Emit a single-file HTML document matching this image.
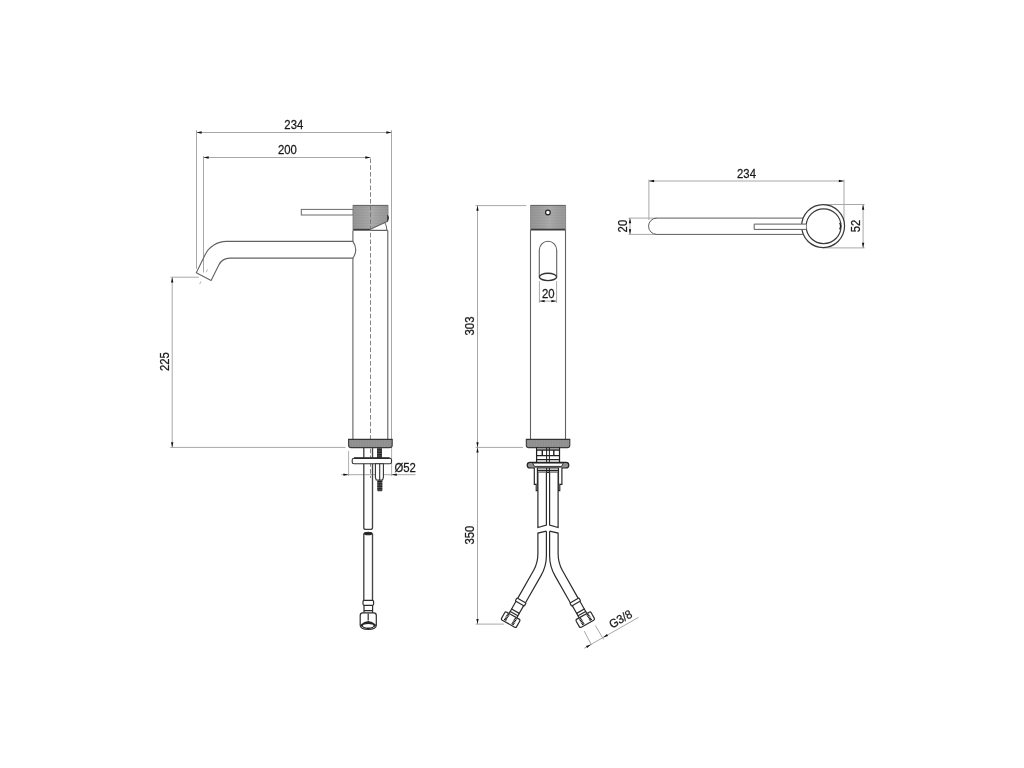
<!DOCTYPE html>
<html>
<head>
<meta charset="utf-8">
<title>Technical drawing</title>
<style>
html,body{margin:0;padding:0;background:#fff;}
body{width:1024px;height:768px;overflow:hidden;font-family:"Liberation Sans",sans-serif;}
svg{display:block;filter:grayscale(1);}
.d{stroke:#a8a8a8;stroke-width:1;fill:none;}
.o{stroke:#626262;stroke-width:1.1;fill:none;}
.ow{stroke:#626262;stroke-width:1.1;fill:#fff;}
.t{font-family:"Liberation Sans",sans-serif;font-size:12px;fill:#1a1a1a;text-anchor:middle;stroke:#1a1a1a;stroke-width:0.25;}
.a{fill:#111;stroke:none;}
.c{stroke:#707070;stroke-width:0.85;fill:none;stroke-dasharray:4.6 2.15;}
.h{stroke:#2c2c2c;stroke-width:1.2;fill:none;}
.hw{stroke:#2c2c2c;stroke-width:1.2;fill:#fff;}
</style>
</head>
<body>
<svg width="1024" height="768" viewBox="0 0 1024 768">
<defs>
  <pattern id="knurl" width="2" height="1.6" patternUnits="userSpaceOnUse">
    <rect width="2" height="1.6" fill="#a3a3a3"/>
    <rect width="2" height="0.5" y="1.1" fill="#979797"/>
  </pattern>
  <pattern id="thread" width="6" height="1.7" patternUnits="userSpaceOnUse">
    <rect width="6" height="1.7" fill="#666"/>
    <rect width="6" height="1" fill="#1c1c1c"/>
  </pattern>
  <pattern id="ring" width="1.6" height="2" patternUnits="userSpaceOnUse">
    <rect width="1.6" height="2" fill="#959595"/>
    <rect width="0.5" height="2" x="1.1" fill="#878787"/>
  </pattern>
  <linearGradient id="hg" x1="0" y1="0" x2="1" y2="0">
    <stop offset="0" stop-color="#000" stop-opacity="0.07"/>
    <stop offset="0.55" stop-color="#fff" stop-opacity="0.10"/>
    <stop offset="1" stop-color="#000" stop-opacity="0.05"/>
  </linearGradient>
  <path id="ar" d="M0,0 L5.2,-1.15 L5.2,1.15 Z"/>
</defs>
<rect width="1024" height="768" fill="#fff"/>

<!-- ================= LEFT: SIDE VIEW ================= -->
<g id="side">
  <!-- dimension 234 -->
  <path class="d" d="M196.5,130.2V268.8 M391.5,130.2V448 M196.5,132.5H391.5"/>
  <use href="#ar" class="a" transform="translate(196.5,132.5)"/>
  <use href="#ar" class="a" transform="translate(391.5,132.5) rotate(180)"/>
  <text class="t" transform="translate(293.8,128.8) scale(0.945,1)">234</text>
  <!-- dimension 200 -->
  <path class="d" d="M203.5,156V272.5 M203.5,157.5H370.5"/>
  <use href="#ar" class="a" transform="translate(203.5,157.5)"/>
  <use href="#ar" class="a" transform="translate(370.5,157.5) rotate(180)"/>
  <text class="t" transform="translate(287.4,154) scale(0.945,1)">200</text>
  <!-- dimension 225 -->
  <path class="d" d="M170.5,277.2H198.8 M170.3,447.4H345.6 M172.2,277.2V447.4"/>
  <use href="#ar" class="a" transform="translate(172.2,277.2) rotate(90)"/>
  <use href="#ar" class="a" transform="translate(172.2,447.4) rotate(-90)"/>
  <text class="t" transform="translate(169,361.6) rotate(-90) scale(0.945,1)">225</text>

  <!-- spout tip axis ticks -->
  <path d="M207.6,269.4L206.2,272.2 M201,281.4L199.6,284.2" stroke="#aaa" stroke-width="0.9" fill="none"/>

  <!-- spout -->
  <path class="o" d="M352.9,241.4H226.4A23.8,23.8 0 0 0 205.1,254.65L196.3,272.7L211.1,280.6L218.8,265A12.3,12.3 0 0 1 229.9,258.1H352.9Q358.6,249.7 352.9,241.4Z"/>
  <!-- body -->
  <path class="o" d="M352.9,230.5V241.4 M352.9,258.1V439 M387.8,230.5V439 M370.9,230.4H387.8"/>
  <!-- handle lever -->
  <rect x="301.3" y="209.4" width="52" height="5.6" fill="#fff" stroke="#6a6a6a" stroke-width="1"/>
  <!-- head (knurled) -->
  <path d="M353,205H388V221.2L386.6,221.7L370.9,229V230.4H353Z" fill="url(#knurl)"/>
  <path d="M353,205H388V221.2L386.6,221.7L370.9,229V230.4H353Z" fill="url(#hg)"/>
  <path d="M353,205.4H388" stroke="#5a5a5a" stroke-width="0.9" fill="none"/>
  <path d="M353,229.7H370.9" stroke="#3a3a3a" stroke-width="1.7" fill="none"/>
  <path d="M353,205V230.4 M388,205V221.2" stroke="#777" stroke-width="0.8" fill="none"/>
  <path class="o" d="M370.9,229L386.6,221.7L388,221.2"/>
  <path d="M384.9,222.6Q386.6,225.5 386.9,230.2" stroke="#555" stroke-width="0.9" fill="none"/>
  <path d="M387.5,215Q390,217.9 387.5,220.8Z" fill="#222" stroke="#222" stroke-width="0.4"/>
  <!-- centre line -->
  <path class="c" d="M370.5,157.5V478" stroke-dashoffset="-1"/>

  <!-- base ring -->
  <path d="M348.6,439.3H392.2V445.2Q392.2,447.6 389.6,447.6H351.2Q348.6,447.6 348.6,445.2Z" fill="url(#ring)" stroke="#3a3a3a" stroke-width="1.1"/>
  <path d="M348.6,439.5H392.2" stroke="#333" stroke-width="1.2" fill="none"/>

  <!-- dimension Ø52 -->
  <path d="M348.6,451V476 M391.6,448V476" stroke="#b0b0b0" stroke-width="1" fill="none"/>
  <path class="d" d="M341.3,474.7H415.6"/>
  <use href="#ar" class="a" transform="translate(348.6,474.7) rotate(180)"/>
  <use href="#ar" class="a" transform="translate(391.6,474.7)"/>
  <text class="t" transform="translate(405.2,471.9) scale(0.945,1)">Ø52</text>

  <!-- threaded rod above plate -->
  <rect x="377" y="447.8" width="5" height="10.4" fill="url(#thread)"/>
  <!-- hose upper -->
  <path d="M363.8,447.8V527.4Q363.8,529.4 365.8,529.4H370.5Q372.5,529.4 372.5,527.4V447.8" fill="none" stroke="#444" stroke-width="1.35"/>
  <!-- mounting plate -->
  <rect x="352.2" y="458.3" width="39.3" height="5.4" rx="1.8" fill="#fff" stroke="#333" stroke-width="1.1"/>
  <path d="M354,458.2H389.6" stroke="#2a2a2a" stroke-width="1.7" fill="none"/>
  <!-- hex nut -->
  <path d="M375.4,463.8H383.4V477.5L382.6,480H376.2L375.4,477.5Z" fill="#fff" stroke="#333" stroke-width="1.1"/>
  <path d="M379.7,463.8V480" stroke="#333" stroke-width="1.1" fill="none"/>
  <!-- thread below nut -->
  <rect x="377.2" y="480" width="5.2" height="11.2" rx="1" fill="url(#thread)"/>

  <!-- hose lower -->
  <ellipse cx="368.15" cy="533.5" rx="4" ry="1.2" fill="#222" stroke="#262626" stroke-width="1.1"/>
  <path d="M363.8,533.5V600.3 M372.5,533.5V600.3" fill="none" stroke="#444" stroke-width="1.35"/>
  <!-- collar -->
  <rect class="hw" x="363" y="600.4" width="10.6" height="4.9" rx="1.2" stroke-width="1.4"/>
  <path class="h" stroke-width="1.4" d="M364,605.3V612.8 M372.6,605.3V612.8 M364,610.6H372.6"/>
  <!-- nut -->
  <path class="hw" stroke-width="1.5" d="M360.2,615.6Q360.2,612.9 362.9,612.9H373.6Q376.3,612.9 376.3,615.6V625.2Q376.3,629.4 368.25,629.4Q360.2,629.4 360.2,625.2Z"/>
  <path class="h" stroke-width="1.2" d="M368.2,613.5V620.6"/>
  <path d="M360.7,624.6Q368.2,617.2 375.8,624.6V626Q368.2,632.4 360.7,626Z" fill="#262626"/>
  <ellipse cx="368.25" cy="625.7" rx="5.3" ry="1.8" fill="#fff"/>
</g>

<!-- ================= MIDDLE: FRONT VIEW ================= -->
<g id="front">
  <!-- dimension 303 / 350 -->
  <path class="d" d="M475.6,205.6H526.3 M475.6,447.4H523.1 M475.6,624.1H503.8 M477.5,205.6V624.1"/>
  <use href="#ar" class="a" transform="translate(477.5,205.6) rotate(90)"/>
  <use href="#ar" class="a" transform="translate(477.5,447.4) rotate(-90)"/>
  <use href="#ar" class="a" transform="translate(477.5,447.4) rotate(90)"/>
  <use href="#ar" class="a" transform="translate(477.5,624.1) rotate(-90)"/>
  <text class="t" transform="translate(474,326) rotate(-90) scale(0.945,1)">303</text>
  <text class="t" transform="translate(474,535.1) rotate(-90) scale(0.945,1)">350</text>

  <!-- head -->
  <rect x="530.6" y="205" width="35" height="25" fill="url(#knurl)"/>
  <rect x="530.6" y="205" width="35" height="25" fill="url(#hg)"/>
  <path d="M530.6,205.4H565.6" stroke="#5a5a5a" stroke-width="0.9" fill="none"/>
  <path d="M530.6,229.6H565.6" stroke="#3a3a3a" stroke-width="1.7" fill="none"/>
  <path d="M530.6,205V230 M565.6,205V230" stroke="#777" stroke-width="0.8" fill="none"/>
  <circle cx="547.9" cy="212.5" r="2.35" fill="#fff" stroke="#222" stroke-width="1.2"/>
  <!-- body -->
  <path class="o" d="M530.5,230V439 M565.5,230V439"/>
  <!-- spout front -->
  <path class="o" d="M539.3,277V250A8.7,8.7 0 0 1 556.7,250V277"/>
  <ellipse cx="548" cy="276.9" rx="8.6" ry="3.7" fill="#fff" stroke="#333" stroke-width="1.4"/>
  <!-- dimension 20 -->
  <path class="d" d="M539.4,281.2V302.8 M556.6,281.2V302.8 M539.4,301.1H556.6"/>
  <use href="#ar" class="a" transform="translate(539.4,301.1)"/>
  <use href="#ar" class="a" transform="translate(556.6,301.1) rotate(180)"/>
  <text class="t" transform="translate(548.3,297.7) scale(0.945,1)">20</text>

  <!-- base ring -->
  <path d="M526.3,439.3H569.8V445.2Q569.8,447.6 567.2,447.6H528.9Q526.3,447.6 526.3,445.2Z" fill="url(#ring)" stroke="#3a3a3a" stroke-width="1.1"/>
  <path d="M526.3,439.5H569.8" stroke="#333" stroke-width="1.2" fill="none"/>

  <!-- fittings under base -->
  <g stroke="#222" stroke-width="1.25" fill="none">
    <rect x="536.6" y="447.6" width="22.9" height="24.8" fill="#fff"/>
    <rect x="537.2" y="447.8" width="21.7" height="2" fill="#9a9a9a" stroke="none"/>
    <path d="M536.6,450.1H559.5 M536.6,455.6H559.5 M536.6,459.7H559.5 M536.6,470.3H559.5 M536.6,472.4H559.5"/>
    <path d="M542.3,450.1V455.6 M553.8,450.1V455.6" stroke-width="1.4"/>
    <path d="M546.6,447.6V472.4 M549.4,447.6V472.4" stroke-width="1"/>
  </g>
  <!-- plate -->
  <rect x="527.2" y="462.3" width="41.6" height="5.7" rx="2.85" fill="#8f8f8f" stroke="#222" stroke-width="1.2"/>
  <path d="M532.6,463.1H563.4L561.6,466.4H534.4Z" fill="#fff" stroke="#222" stroke-width="0.9"/>
  <!-- studs -->
  <path d="M534.3,467.8V484.4H537.4V467.8 M558.5,467.8V484.4H561.9V467.8" fill="#fff" stroke="#222" stroke-width="1.15"/>
  <path d="M536.2,484.4V490.6H537.8V484.4 M558.3,484.4V490.6H559.8V484.4" fill="#fff" stroke="#222" stroke-width="1.1"/>

  <!-- hoses upper -->
  <path class="hw" d="M537.9,472.4V527.5L546.4,525V472.4"/>
  <path class="hw" d="M549.6,472.4V525L558.1,527.5V472.4"/>
  <!-- hoses lower -->
  <path class="h" d="M546.4,531.2L537.9,533.1V553.6Q537.9,562.9 533.7,570.3L517.7,598.4 M546.4,531.2V555.4Q546.4,566.2 541,575.6L525.5,602.7"/>
  <path class="h" d="M549.6,531.2L558.1,533.1V553.6Q558.1,562.9 562.3,570.3L578.2,598.4 M549.6,531.2V555.4Q549.6,566.2 554.9,575.6L570.3,602.7"/>

  <!-- left connector -->
  <g transform="translate(521.5,600.5) rotate(29.5)">
    <rect class="hw" x="-5.2" y="0" width="10.4" height="3.4" rx="0.7"/>
    <path class="h" d="M-4.4,3.4V17.4 M4.4,3.4V17.4"/>
    <path class="h" d="M-4.9,12.3H4.9 M-4.9,15.1H4.9" stroke-width="1.5"/>
    <rect class="hw" x="-8.6" y="17.4" width="17.2" height="9.2" rx="1.5" stroke-width="1.25"/>
    <path d="M-4.6,18.2V26 M4,18.2V26" stroke="#111" stroke-width="2.6" stroke-dasharray="1.05 0.5" fill="none"/>
  </g>
  <!-- right connector -->
  <g transform="translate(574.4,600.5) rotate(-29.5)">
    <rect class="hw" x="-5.2" y="0" width="10.4" height="3.4" rx="0.7"/>
    <path class="h" d="M-4.4,3.4V17.4 M4.4,3.4V17.4"/>
    <path class="h" d="M-4.9,12.3H4.9 M-4.9,15.1H4.9" stroke-width="1.5"/>
    <rect class="hw" x="-8.6" y="17.4" width="17.2" height="9.2" rx="1.5" stroke-width="1.25"/>
    <path d="M-4,18.2V26 M4.6,18.2V26" stroke="#111" stroke-width="2.6" stroke-dasharray="1.05 0.5" fill="none"/>
  </g>

  <!-- dimension G3/8 -->
  <path class="d" d="M584.2,631.1L591.6,645.2 M595.3,625.5L603.6,639.4 M584.2,648.3L638.6,617.3"/>
  <use href="#ar" class="a" transform="translate(591,644.4) rotate(150.4)"/>
  <use href="#ar" class="a" transform="translate(603,637.5) rotate(-29.6)"/>
  <text class="t" transform="translate(622.6,622.6) rotate(-29.6) scale(0.945,1)">G3/8</text>
</g>

<!-- ================= RIGHT: TOP VIEW ================= -->
<g id="top">
  <!-- dimension 234 -->
  <path class="d" d="M648.9,179.6V220 M844,179.6V226 M648.9,181H844"/>
  <use href="#ar" class="a" transform="translate(648.9,181)"/>
  <use href="#ar" class="a" transform="translate(844,181) rotate(180)"/>
  <text class="t" transform="translate(746.5,177.7) scale(0.945,1)">234</text>
  <!-- dimension 20 -->
  <path class="d" d="M628.6,218.1H657 M628.6,234.4H657 M630,218.1V234.4"/>
  <use href="#ar" class="a" transform="translate(630,218.1) rotate(90)"/>
  <use href="#ar" class="a" transform="translate(630,234.4) rotate(-90)"/>
  <text class="t" transform="translate(626.9,226.1) rotate(-90) scale(0.945,1)">20</text>
  <!-- dimension 52 -->
  <path class="d" d="M823,204.5H864.6 M823,247.9H864.6 M863.1,204.5V247.9"/>
  <use href="#ar" class="a" transform="translate(863.1,204.5) rotate(90)"/>
  <use href="#ar" class="a" transform="translate(863.1,247.9) rotate(-90)"/>
  <text class="t" transform="translate(859.9,226) rotate(-90) scale(0.945,1)">52</text>

  <!-- spout -->
  <path d="M803.3,218.1H656.7A8.15,8.15 0 0 0 656.7,234.4H803.3" fill="none" stroke="#5c5c5c" stroke-width="1"/>
  <!-- circles -->
  <circle cx="823.1" cy="226.1" r="21.45" fill="#fff" stroke="#3a3a3a" stroke-width="1.25"/>
  <circle cx="823.6" cy="226.15" r="17.4" fill="#fff" stroke="#3a3a3a" stroke-width="1.25"/>
  <path d="M839.6,222.9Q841.2,226.1 839.6,229.3Q842.6,226.1 839.6,222.9Z" fill="#1a1a1a" stroke="#1a1a1a" stroke-width="0.6"/>
  <!-- lever -->
  <path d="M806.3,224.1H754.2V229.4H806.3" fill="#fff" stroke="#5c5c5c" stroke-width="1"/>
</g>
</svg>
</body>
</html>
